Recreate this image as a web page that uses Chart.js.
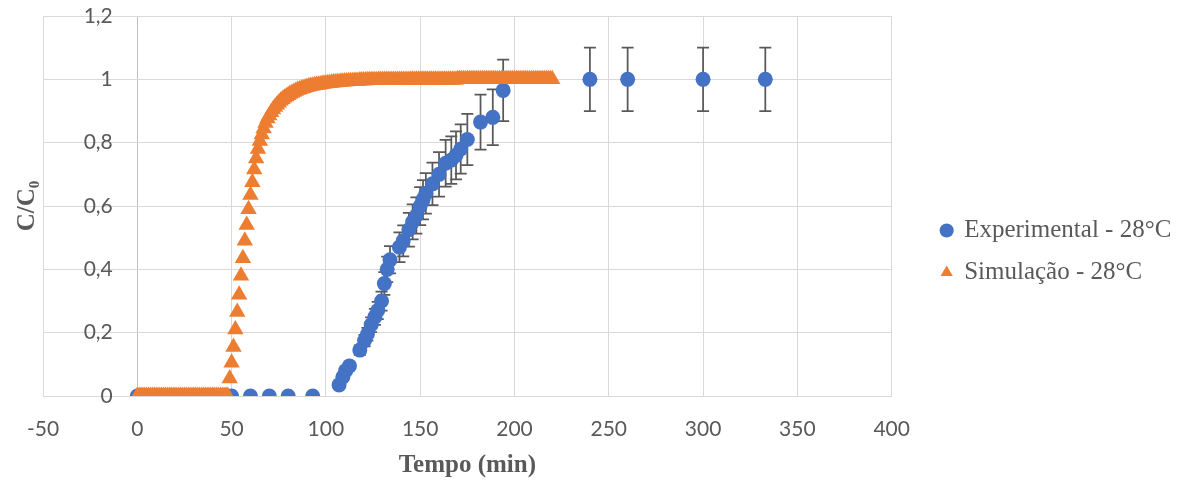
<!DOCTYPE html>
<html>
<head>
<meta charset="utf-8">
<title>C/C0 x Tempo</title>
<script src="https://cdn.jsdelivr.net/npm/chart.js@4.4.1/dist/chart.umd.min.js"></script>
<style>
    body { margin: 0; background: #fff; }
    #wrap { width: 1196px; height: 485px; position: relative; }
</style>
</head>
<body>
<div id="wrap"><canvas id="breakthroughChart"></canvas></div>
<script>
// Experimental - 28°C (tempo em min, C/C0 e barra de erro)
const expTime = [0, 10, 20, 30, 40, 50, 60, 70, 80, 93,
    107, 109, 110.5, 112.5, 118, 120.5, 122, 124, 126, 127.5,
    129.5, 131, 132.5, 134, 139, 141, 144, 146, 148, 150,
    151.5, 153, 156.5, 160, 163.5, 166.5, 169, 171.5, 175, 182,
    188.5, 194, 240, 260, 300, 333];
const expValue = [0, 0, 0, 0, 0, 0, 0, 0, 0, 0,
    0.035, 0.06, 0.08, 0.095, 0.145, 0.175, 0.195, 0.225, 0.25, 0.27,
    0.30, 0.355, 0.40, 0.43, 0.47, 0.49, 0.525, 0.55, 0.57, 0.60,
    0.62, 0.64, 0.67, 0.70, 0.735, 0.745, 0.76, 0.78, 0.81, 0.865,
    0.88, 0.965, 1, 1, 1, 1];
const expError = [0, 0, 0, 0, 0, 0, 0, 0, 0, 0,
    0.004, 0.006, 0.008, 0.01, 0.015, 0.018, 0.02, 0.023, 0.025, 0.027,
    0.03, 0.036, 0.04, 0.043, 0.047, 0.049, 0.053, 0.055, 0.057, 0.06,
    0.062, 0.064, 0.067, 0.07, 0.074, 0.075, 0.076, 0.078, 0.081, 0.087,
    0.088, 0.097, 0.1, 0.1, 0.1, 0.1];

// Simulação - 28°C
const simTime = [
    0, 1, 2, 3, 4, 5, 6, 7, 8, 9,
    10, 11, 12, 13, 14, 15, 16, 17, 18, 19,
    20, 21, 22, 23, 24, 25, 26, 27, 28, 29,
    30, 31, 32, 33, 34, 35, 36, 37, 38, 39,
    40, 41, 42, 43, 44, 45, 46, 47, 48, 49,
    50, 51, 52, 53, 54, 55, 56, 57, 58, 59,
    60, 61, 62, 63, 64, 65, 66, 67, 68, 69,
    70, 71, 72, 73, 74, 75, 76, 77, 78, 79,
    80, 81, 82, 83, 84, 85, 86, 87, 88, 89,
    90, 91, 92, 93, 94, 95, 96, 97, 98, 99,
    100, 101, 102, 103, 104, 105, 106, 107, 108, 109,
    110, 111, 112, 113, 114, 115, 116, 117, 118, 119,
    120, 121, 122, 123, 124, 125, 126, 127, 128, 129,
    130, 131, 132, 133, 134, 135, 136, 137, 138, 139,
    140, 141, 142, 143, 144, 145, 146, 147, 148, 149,
    150, 151, 152, 153, 154, 155, 156, 157, 158, 159,
    160, 161, 162, 163, 164, 165, 166, 167, 168, 169,
    170, 171, 172, 173, 174, 175, 176, 177, 178, 179,
    180, 181, 182, 183, 184, 185, 186, 187, 188, 189,
    190, 191, 192, 193, 194, 195, 196, 197, 198, 199,
    200, 201, 202, 203, 204, 205, 206, 207, 208, 209,
    210, 211, 212, 213, 214, 215, 216, 217, 218, 219,
    220];
const simValue = [
    0, 0, 0, 0, 0, 0, 0, 0, 0, 0,
    0, 0, 0, 0, 0, 0, 0, 0, 0, 0,
    0, 0, 0, 0, 0, 0, 0, 0, 0, 0,
    0, 0, 0, 0, 0, 0, 0, 0, 0, 0,
    0, 0, 0, 0, 0, 0, 0, 0, 0, 0.055,
    0.105, 0.155, 0.21, 0.265, 0.32, 0.38, 0.435, 0.49, 0.54, 0.59,
    0.635, 0.675, 0.715, 0.75, 0.78, 0.805, 0.826, 0.845, 0.862, 0.876,
    0.886, 0.896, 0.905, 0.913, 0.92, 0.926, 0.932, 0.937, 0.942, 0.946,
    0.95, 0.954, 0.957, 0.96, 0.963, 0.966, 0.968, 0.97, 0.972, 0.974,
    0.976, 0.977, 0.979, 0.98, 0.981, 0.982, 0.983, 0.984, 0.985, 0.986,
    0.987, 0.988, 0.988, 0.989, 0.99, 0.99, 0.991, 0.991, 0.992, 0.992,
    0.993, 0.993, 0.994, 0.994, 0.994, 0.995, 0.995, 0.995, 0.996, 0.996,
    0.996, 0.996, 0.997, 0.997, 0.997, 0.997, 0.997, 0.997, 0.998, 0.998,
    0.998, 0.998, 0.998, 0.998, 0.998, 0.998, 0.998, 0.998, 0.998, 0.998,
    0.998, 0.998, 0.998, 0.998, 0.998, 0.999, 0.999, 0.999, 0.999, 0.999,
    0.999, 0.999, 0.999, 0.999, 0.999, 0.999, 0.999, 0.999, 0.999, 0.999,
    0.999, 0.999, 0.999, 0.999, 0.999, 0.999, 0.999, 0.999, 0.999, 0.999,
    1, 1, 1, 1, 1, 1, 1, 1, 1, 1,
    1, 1, 1, 1, 1, 1, 1, 1, 1, 1,
    1, 1, 1, 1, 1, 1, 1, 1, 1, 1,
    1, 1, 1, 1, 1, 1, 1, 1, 1, 1,
    1, 1, 1, 1, 1, 1, 1, 1, 1, 1,
    1];

const xTicks = [-50, 0, 50, 100, 150, 200, 250, 300, 350, 400];
const yTicks = [0, 0.2, 0.4, 0.6, 0.8, 1, 1.2];

const gridColor = '#d9d9d9';
const axisColor = '#bfbfbf';
const textColor = '#595959';

// error bars of the experimental series, drawn under the markers
const errorBars = {
    id: 'errorBars',
    beforeDatasetsDraw(chart) {
        const ctx = chart.ctx;
        const xs = chart.scales.x;
        const ys = chart.scales.y;
        ctx.save();
        ctx.strokeStyle = '#595959';
        ctx.lineWidth = 1.75;
        expTime.forEach((t, i) => {
            const e = expError[i];
            if (!e) return;
            const px = xs.getPixelForValue(t);
            const top = ys.getPixelForValue(expValue[i] + e);
            const bot = ys.getPixelForValue(expValue[i] - e);
            ctx.beginPath();
            ctx.moveTo(px, top);
            ctx.lineTo(px, bot);
            ctx.moveTo(px - 6, top);
            ctx.lineTo(px + 6, top);
            ctx.moveTo(px - 6, bot);
            ctx.lineTo(px + 6, bot);
            ctx.stroke();
        });
        ctx.restore();
    }
};

// pushes the legend away from the plot, like in Excel
const legendShift = {
    id: 'legendShift',
    afterLayout(chart) {
        const lg = chart.legend;
        if (!lg) return;
        lg.left = chart.chartArea.right + 33;
        lg.right = chart.width;
        lg.width = lg.right - lg.left;
        lg.top += 3;
        lg.bottom += 3;
    }
};

function buildChart() {
    const ctx = document.getElementById('breakthroughChart').getContext('2d');

    new Chart(ctx, {
        type: 'scatter',
        data: {
            datasets: [{
                label: 'Experimental - 28°C',
                data: expTime.map((t, i) => ({ x: t, y: expValue[i] })),
                pointStyle: 'circle',
                pointRadius: 7.5,
                pointHoverRadius: 7.5,
                backgroundColor: '#4472C4',
                borderColor: '#4472C4',
                borderWidth: 0,
                order: 2
            }, {
                label: 'Simulação - 28°C',
                data: simTime.map((t, i) => ({ x: t, y: simValue[i] })),
                pointStyle: 'triangle',
                pointRadius: 9.5,
                pointHoverRadius: 9.5,
                backgroundColor: '#ED7D31',
                borderColor: '#ED7D31',
                borderWidth: 0,
                order: 1
            }]
        },
        options: {
            responsive: true,
            maintainAspectRatio: false,
            animation: false,
            layout: {
                padding: { left: 10, top: 16, right: 128, bottom: 4 }
            },
            plugins: {
                legend: {
                    position: 'right',
                    labels: {
                        usePointStyle: true,
                        boxWidth: 10,
                        boxHeight: 10,
                        padding: 17,
                        color: textColor,
                        font: { family: 'Liberation Serif', size: 25 },
                        sort: (a, b) => a.datasetIndex - b.datasetIndex
                    }
                },
                tooltip: { enabled: false }
            },
            scales: {
                x: {
                    type: 'linear',
                    position: 'bottom',
                    min: -50,
                    max: 400,
                    afterBuildTicks: (scale) => {
                        scale.ticks = xTicks.map(v => ({ value: v }));
                    },
                    afterFit: (scale) => {
                        scale.height = 85;
                    },
                    grid: {
                        color: (c) => (c.tick && c.tick.value === 0 ? axisColor : gridColor),
                        drawTicks: false
                    },
                    border: { display: true, color: gridColor },
                    ticks: {
                        padding: 21,
                        color: textColor,
                        font: { family: 'Lato', size: 21 }
                    },
                    title: {
                        display: true,
                        text: 'Tempo (min)',
                        color: textColor,
                        padding: { top: 9, bottom: 0 },
                        font: { family: 'Liberation Serif', size: 25, weight: 'bold' }
                    }
                },
                y: {
                    type: 'linear',
                    position: { x: -13 },
                    min: 0,
                    max: 1.2,
                    afterBuildTicks: (scale) => {
                        scale.ticks = yTicks.map(v => ({ value: v }));
                    },
                    grid: { color: gridColor, drawTicks: false },
                    border: { display: false },
                    ticks: {
                        padding: 0,
                        color: textColor,
                        font: { family: 'Lato', size: 21 },
                        callback: (v) => String(Math.round(v * 10) / 10).replace('.', ',')
                    },
                    title: { display: false }
                },
                yTitle: {
                    axis: 'y',
                    type: 'linear',
                    position: 'left',
                    grid: { display: false, drawTicks: false },
                    border: { display: false },
                    ticks: { display: false },
                    title: {
                        display: true,
                        text: 'C/C₀',
                        color: textColor,
                        padding: { top: 3, bottom: 0 },
                        font: { family: 'Liberation Serif', size: 25, weight: 'bold' }
                    }
                }
            }
        },
        plugins: [errorBars, legendShift]
    });
}

buildChart();
</script>
</body>
</html>
